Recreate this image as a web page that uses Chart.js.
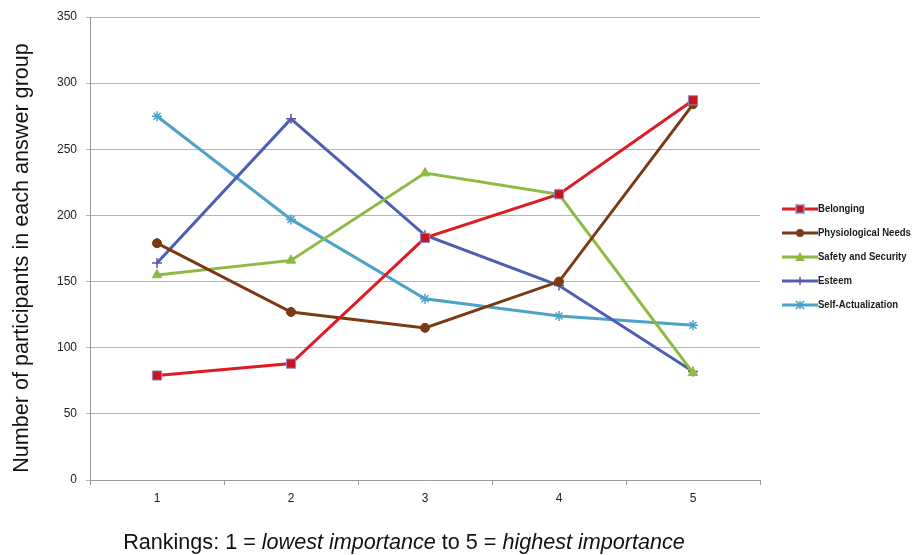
<!DOCTYPE html>
<html>
<head>
<meta charset="utf-8">
<script src="https://cdn.jsdelivr.net/npm/chart.js@4"></script>
<style>
  html, body { margin: 0; padding: 0; background: #ffffff; }
  #wrap { position: relative; width: 920px; height: 555px; }
</style>
</head>
<body>
<div id="wrap"><canvas id="chart" width="920" height="555"></canvas></div>
<script>
// Rankings 1..5 and how many participants put each need at that rank
const categories = ['1', '2', '3', '4', '5'];
const belonging = [79, 88, 183, 216, 287];
const physiologicalNeeds = [179, 127, 115, 150, 284];
const safetyAndSecurity = [155, 166, 232, 216, 81];
const esteem = [164, 273, 185, 147, 82];
const selfActualization = [275, 197, 137, 124, 117];
const seriesNames = ['Belonging', 'Physiological Needs', 'Safety and Security', 'Esteem', 'Self-Actualization'];
const yTicks = [0, 50, 100, 150, 200, 250, 300, 350];
const yTitle = 'Number of participants in each answer group';

const styles = [
  { line: '#DD1C24', fill: '#C8141E', border: '#8C8CC8', point: 'rect', r: 6.5 },
  { line: '#7A3B12', fill: '#7A3B12', border: '#7A3B12', point: 'circle', r: 4.5 },
  { line: '#8DBA43', fill: '#8DBA43', border: '#8DBA43', point: 'triangle', r: 5.5 },
  { line: '#4E5EB4', fill: '#6B4FA6', border: '#6B4FA6', point: 'cross', r: 5 },
  { line: '#4CA2C8', fill: '#4CA2C8', border: '#4CA2C8', point: 'star', r: 5 }
];
const values = [belonging, physiologicalNeeds, safetyAndSecurity, esteem, selfActualization];

// Legend swatch: a short stroke with the series marker on it
function drawSwatch(g, st, x0, cy, w) {
  g.save();
  g.strokeStyle = st.line; g.lineWidth = 3;
  g.beginPath(); g.moveTo(x0, cy); g.lineTo(x0 + w, cy); g.stroke();
  g.fillStyle = st.fill; g.strokeStyle = st.border; g.lineWidth = 1.5;
  const cx = x0 + w / 2, r = 4;
  g.beginPath();
  if (st.point === 'rect') { g.rect(cx - r, cy - r, 2 * r, 2 * r); g.fill(); g.stroke(); }
  else if (st.point === 'circle') { g.arc(cx, cy, r, 0, Math.PI * 2); g.fill(); }
  else if (st.point === 'triangle') { g.moveTo(cx, cy - r - 1); g.lineTo(cx + r + 1, cy + r); g.lineTo(cx - r - 1, cy + r); g.closePath(); g.fill(); }
  else if (st.point === 'cross') { g.moveTo(cx - r, cy); g.lineTo(cx + r, cy); g.moveTo(cx, cy - r); g.lineTo(cx, cy + r); g.stroke(); }
  else if (st.point === 'star') {
    g.moveTo(cx - r, cy - r); g.lineTo(cx + r, cy + r); g.moveTo(cx - r, cy + r); g.lineTo(cx + r, cy - r);
    g.moveTo(cx, cy - r); g.lineTo(cx, cy + r); g.stroke();
  }
  g.restore();
}

const datasets = seriesNames.map((name, i) => ({
  label: name,
  data: values[i],
  borderColor: styles[i].line,
  backgroundColor: styles[i].fill,
  borderWidth: 3,
  pointStyle: styles[i].point,
  pointRadius: styles[i].r,
  pointBackgroundColor: styles[i].fill,
  pointBorderColor: styles[i].border,
  pointBorderWidth: styles[i].point === 'cross' || styles[i].point === 'star' ? 1.5 : 1,
  tension: 0,
  fill: false
}));

const titleFont = '21.6px "Liberation Sans", Arial, sans-serif';

// Axis captions and the legend column on the right
const decorations = {
  id: 'decorations',
  afterDraw(chart) {
    const ctx = chart.ctx;
    const area = chart.chartArea;

    // x caption with italic phrases
    const parts = [
      ['Rankings: 1 = ', false], ['lowest importance', true], [' to 5 = ', false], ['highest importance', true]
    ];
    const fontFor = it => (it ? 'italic ' : '') + titleFont;
    ctx.save();
    ctx.fillStyle = '#111';
    ctx.textBaseline = 'middle';
    let total = 0;
    parts.forEach(p => { ctx.font = fontFor(p[1]); total += ctx.measureText(p[0]).width; });
    let x = 404 - total / 2;
    parts.forEach(p => { ctx.font = fontFor(p[1]); ctx.fillText(p[0], x, 543); x += ctx.measureText(p[0]).width; });
    ctx.restore();

    // y caption, rotated
    ctx.save();
    ctx.translate(22, 258);
    ctx.rotate(-Math.PI / 2);
    ctx.font = titleFont;
    ctx.fillStyle = '#111';
    ctx.textAlign = 'center';
    ctx.textBaseline = 'middle';
    ctx.fillText(yTitle, 0, 0);
    ctx.restore();

    // legend: compact labels next to each swatch
    chart.data.datasets.forEach((ds, i) => {
      const cy = 209 + i * 24;
      drawSwatch(ctx, styles[i], area.right + 22, cy, 36);
      ctx.save();
      ctx.translate(area.right + 58, cy);
      ctx.scale(0.83, 1);
      ctx.font = 'bold 11.5px "Liberation Sans", Arial, sans-serif';
      ctx.fillStyle = '#1a1a1a';
      ctx.textBaseline = 'middle';
      ctx.fillText(ds.label, 0, 0);
      ctx.restore();
    });
  }
};

const tickFont = { family: '"Liberation Sans", Arial, sans-serif', size: 12 };

new Chart(document.getElementById('chart'), {
  type: 'line',
  data: { labels: categories, datasets },
  plugins: [decorations],
  options: {
    responsive: false,
    animation: false,
    layout: { padding: { top: 17, left: 0, right: 160, bottom: 0 } },
    plugins: {
      tooltip: { enabled: false },
      legend: { display: false }
    },
    scales: {
      x: {
        offset: true,
        afterFit(s) { s.height = 75; },
        grid: { display: true, drawOnChartArea: false, drawTicks: true, tickLength: 5, offset: true, color: '#9a9a9a' },
        border: { display: true, color: '#9a9a9a', width: 1 },
        ticks: { font: tickFont, color: '#222', padding: 6 }
      },
      y: {
        min: 0,
        max: 350,
        afterFit(s) { s.width = 90; },
        afterBuildTicks(s) { s.ticks = yTicks.map(v => ({ value: v })); },
        grid: { color: '#b4b4b4', tickLength: 4, lineWidth: 1 },
        border: { display: true, color: '#9a9a9a', width: 1 },
        ticks: { font: tickFont, color: '#222', padding: 9 }
      }
    }
  }
});
</script>
</body>
</html>
